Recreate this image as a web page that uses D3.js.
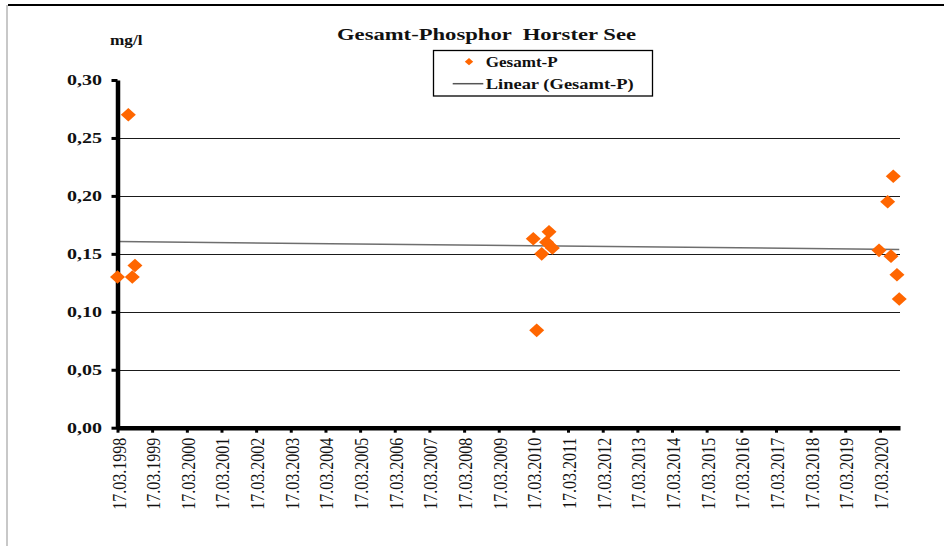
<!DOCTYPE html>
<html>
<head>
<meta charset="utf-8">
<script src="https://cdn.jsdelivr.net/npm/d3@7/dist/d3.min.js"></script>
<style>
  html, body { margin: 0; padding: 0; background: #fff; }
  svg { display: block; }
  text { font-family: "Liberation Serif", "Times New Roman", serif; fill: #111; }
</style>
</head>
<body>
<svg id="chart" width="944" height="546"></svg>
<script>
// ---- data ----
const title = "Gesamt-Phosphor  Horster See";
const unitLabel = "mg/l";
const seriesName = "Gesamt-P";
const trendName = "Linear (Gesamt-P)";
const sampleDates = [
  "1998-03-17", "1998-07-09", "1998-08-20", "1998-09-17",
  "2010-03-16", "2010-04-21", "2010-06-13", "2010-08-03", "2010-08-29", "2010-10-03",
  "2020-03-07", "2020-06-06", "2020-07-11", "2020-08-04", "2020-09-12", "2020-10-06"
];
const phosphorValues = [
  0.130, 0.270, 0.130, 0.140,
  0.163, 0.084, 0.150, 0.160, 0.169, 0.155,
  0.153, 0.195, 0.148, 0.217, 0.132, 0.111
];
const yTickValues = [0, 0.05, 0.10, 0.15, 0.20, 0.25, 0.30];
const xTickYears = d3.range(1998, 2021);
const xDomainDates = ["1998-03-17", "2020-10-14"];

// ---- setup ----
const svg = d3.select("#chart");
const parse = d3.timeParse("%Y-%m-%d");
const points = sampleDates.map((d, i) => ({ date: parse(d), value: phosphorValues[i] }));

const x = d3.scaleTime().domain(xDomainDates.map(parse)).range([117.5, 900]);
const y = d3.scaleLinear().domain([0, 0.30]).range([427.7, 80]);

// frame
svg.append("line").attr("x1", 8).attr("x2", 944).attr("y1", 5).attr("y2", 5)
  .attr("stroke", "#000").attr("stroke-width", 2);
svg.append("line").attr("x1", 7).attr("x2", 7).attr("y1", 5).attr("y2", 546)
  .attr("stroke", "#c8c8c8").attr("stroke-width", 2);

// gridlines
svg.append("g").selectAll("line")
  .data(yTickValues.filter(v => v > 0 && v < 0.30))
  .join("line")
  .attr("x1", 117.5).attr("x2", 900)
  .attr("y1", d => Math.round(y(d)) + 0.5).attr("y2", d => Math.round(y(d)) + 0.5)
  .attr("stroke", "#1a1a1a").attr("stroke-width", 1.2);

// trend line (least squares on the data)
const t0 = points[0].date.getTime();
const xs = points.map(p => (p.date.getTime() - t0) / 864e5);
const ys = points.map(p => p.value);
const mx = d3.mean(xs), my = d3.mean(ys);
const slope = d3.sum(xs.map((v, i) => (v - mx) * (ys[i] - my))) / d3.sum(xs.map(v => (v - mx) ** 2));
const intercept = my - slope * mx;
const firstD = d3.min(points, p => p.date), lastD = d3.max(points, p => p.date);
const trend = [firstD, lastD].map(d => ({ date: d, value: intercept + slope * ((d.getTime() - t0) / 864e5) }));
svg.append("path")
  .datum(trend)
  .attr("fill", "none")
  .attr("stroke", "#6e6e6e")
  .attr("stroke-width", 1.5)
  .attr("d", d3.line().x(d => x(d.date)).y(d => y(d.value)));

// y axis
const yAxis = svg.append("g").attr("transform", "translate(117.5,0)")
  .call(d3.axisLeft(y).tickValues(yTickValues).tickSize(6).tickSizeOuter(0)
    .tickFormat(d => d3.format(".2f")(d).replace(".", ",")));
yAxis.select(".domain").attr("stroke", "#000").attr("stroke-width", 4.5);
yAxis.selectAll(".tick line").attr("stroke", "#000").attr("stroke-width", 3);
yAxis.selectAll(".tick text")
  .attr("x", -15.5).attr("dy", "0.32em")
  .attr("font-size", 15.5).attr("font-weight", "bold")
  .attr("textLength", 35).attr("lengthAdjust", "spacingAndGlyphs")
  .style("font-family", "'Liberation Serif', serif").attr("fill", "#111");

// x axis
const xAxis = svg.append("g").attr("transform", "translate(0,427.7)")
  .call(d3.axisBottom(x).tickValues(xTickYears.map(yr => new Date(yr, 2, 17)))
    .tickSize(5).tickSizeOuter(0).tickFormat(d3.timeFormat("%d.%m.%Y")));
xAxis.select(".domain").attr("stroke", "#000").attr("stroke-width", 4.5);
xAxis.selectAll(".tick line").attr("stroke", "#000").attr("stroke-width", 3);
xAxis.selectAll(".tick text")
  .attr("x", 0).attr("y", 0).attr("dy", 0)
  .attr("text-anchor", "end")
  .attr("font-size", 16)
  .attr("transform", "translate(7.5,10) scale(1.19,1) rotate(-90)")
  .style("font-family", "'Liberation Serif', serif").attr("fill", "#111");

// points (diamonds)
const diamond = (w, h) => `M0,${-h}L${w},0L0,${h}L${-w},0Z`;
svg.append("g").selectAll("path")
  .data(points)
  .join("path")
  .attr("transform", d => `translate(${x(d.date)},${y(d.value)})`)
  .attr("d", diamond(7.5, 6.8))
  .attr("fill", "#ff6600");

// title
svg.append("text")
  .attr("x", 337).attr("y", 40)
  .attr("font-size", 17).attr("font-weight", "bold")
  .attr("textLength", 299).attr("lengthAdjust", "spacingAndGlyphs")
  .style("white-space", "pre")
  .text(title);

// unit
svg.append("text")
  .attr("x", 110).attr("y", 45)
  .attr("font-size", 14.5).attr("font-weight", "bold")
  .attr("textLength", 32.5).attr("lengthAdjust", "spacingAndGlyphs")
  .text(unitLabel);

// legend
const lg = svg.append("g");
lg.append("rect").attr("x", 433.5).attr("y", 50.5).attr("width", 219).attr("height", 45.5)
  .attr("fill", "#fff").attr("stroke", "#000").attr("stroke-width", 1.3);
lg.append("path").attr("transform", "translate(469,61.7)").attr("d", diamond(4.2, 3.6)).attr("fill", "#ff6600");
lg.append("text").attr("x", 485.7).attr("y", 66.5)
  .attr("font-size", 14.5).attr("font-weight", "bold")
  .attr("textLength", 72).attr("lengthAdjust", "spacingAndGlyphs")
  .text(seriesName);
lg.append("line").attr("x1", 452.7).attr("x2", 483.3).attr("y1", 83.7).attr("y2", 83.7)
  .attr("stroke", "#555").attr("stroke-width", 1.5);
lg.append("text").attr("x", 485.7).attr("y", 89.3)
  .attr("font-size", 14.5).attr("font-weight", "bold")
  .attr("textLength", 148).attr("lengthAdjust", "spacingAndGlyphs")
  .text(trendName);
</script>
</body>
</html>
